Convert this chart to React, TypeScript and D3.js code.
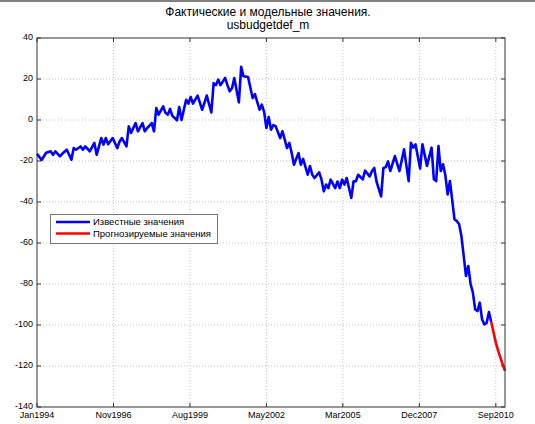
import React from "react";
import * as d3 from "d3";

// Month offsets counted from Jan1994 (0 = Jan1994)
const knownMonths = [
  0, 2, 4, 6, 7, 8, 10, 11, 13, 15, 16, 17, 19, 20, 21, 22, 23, 25, 26, 28, 29, 30, 31, 33, 35, 36, 37, 39, 40, 41, 43, 44, 46, 47, 48, 50, 51,
  52, 53, 55, 56, 57, 58, 59, 60, 61, 62, 63, 65, 66, 67, 68, 70, 72, 74, 76, 77, 78, 79, 80, 82, 83, 84, 85, 86, 88, 89, 90, 92, 94, 95, 97, 98,
  99, 100, 101, 102, 103, 104, 106, 107, 109, 110, 111, 112, 114, 115, 116, 118, 119, 120, 121, 123, 124, 125, 126, 127, 128, 130, 131, 132, 133,
  134, 135, 136, 137, 138, 139, 140, 142, 143, 145, 146, 147, 148, 150, 151, 152, 153, 154, 156, 158, 160, 162, 163, 164, 165, 167, 168, 169, 170,
  172, 173, 174, 175, 176, 177, 178, 179, 180, 182, 183, 184, 185, 186, 187, 188, 189, 190, 191, 192, 193, 194, 195, 196, 197, 198,
];
const knownValues = [
  -16.5, -19.5, -16, -15.3, -17, -15.3, -17.7, -16.5, -14.5, -19.4, -13.7, -14.5, -12.9, -14.5, -12.9, -14, -15.3, -11.2, -17, -8.8, -12, -8.8,
  -11.8, -8.8, -13.7, -10.5, -8.8, -12.9, -3.1, -6.3, -1.5, -5.5, -1.5, -5.5, -4, -1.5, -5.5,
  5.8, 2.6, 6.6, 3.5, 2.6, 5.4, 2, 1, -0.2, 6.3, 0, 9.9, 8, 11.2, 8, 11.9, 5, 11.9, 3.7, 18, 17, 19.7, 17, 20.5, 17, 14, 15.5, 20.5, 8.6, 25.9,
  21.3, 21, 10.7, 12.6, 5, 7.5,
  4, -3.9, 1.5, -4.7, -2.5, -3, -8.8, -5.5, -13.7, -11.2, -16, -21.8, -16.1, -21.8, -19, -26.7, -22.5, -26.7, -28.3, -25.5, -29, -34.8, -31.5,
  -33.2, -29.1, -33.2, -30, -33.2, -29.1,
  -31.5, -28.3, -33.2, -38, -29.9, -29.9, -26.7, -29, -24.7, -27.5, -25, -23.4, -30, -37.3, -23.4, -23, -20.2, -24.9, -17.6, -24.9, -14.3, -29.8,
  -11.1, -13.5, -11.9, -23.7, -11.9, -17, -22.4,
  -13.5, -28.9, -29.8, -12.7, -24.9, -21.6, -27, -36.3, -29.8, -48.5, -49.3, -50.9, -56.6, -66.3, -76.1, -71.2, -80, -84.2, -92.4, -93.2, -89.1,
  -97.2, -99.7, -99, -93.7, -98.5,
];
const forecastMonths = [198, 199, 200, 201, 202, 203, 204];
const forecastValues = [-98.5, -103.5, -108.6, -112.5, -115.9, -119.3, -122.4];

const xTickLabels = ["Jan1994", "Nov1996", "Aug1999", "May2002", "Mar2005", "Dec2007", "Sep2010"];
const yTicks = [-140, -120, -100, -80, -60, -40, -20, 0, 20, 40];
const titleLines = ["Фактические и модельные значения.", "usbudgetdef_m"];
const legendLabels = ["Известные значения", "Прогнозируемые значения"];

const W = 535;
const H = 424;
const L = 37;
const R = 505;
const T = 38;
const B = 407;

export default function App() {
  const x = d3.scaleLinear().domain([0, 204]).range([L, R]);
  const y = d3.scaleLinear().domain([-140, 40]).range([B, T]);
  const xTicks = xTickLabels.map((_, i) => (i * 200) / 6);

  const line = d3
    .line<[number, number]>()
    .x((d) => x(d[0]))
    .y((d) => y(d[1]));
  const known = knownMonths.map((m, i) => [m, knownValues[i]] as [number, number]);
  const fc = forecastMonths.map((m, i) => [m, forecastValues[i]] as [number, number]);

  const font = "'Liberation Sans', Arial, sans-serif";
  const axisColor = "#333";

  return (
    <svg
      width={W}
      height={H}
      style={{ position: "absolute", left: 0, top: 0, background: "#fff" }}
      fontFamily={font}
    >
      <rect x={0} y={0} width={W} height={H} fill="#fff" />
      <rect x={0} y={0} width={W} height={2} fill="#808080" />
      {/* grid */}
      {xTicks.slice(1).map((t, i) => (
        <line key={"gx" + i} x1={x(t)} x2={x(t)} y1={T} y2={B} stroke="#c4c4c4" strokeWidth={1} strokeDasharray="1,2" />
      ))}
      {yTicks.slice(1, -1).map((t, i) => (
        <line key={"gy" + i} x1={L} x2={R} y1={y(t)} y2={y(t)} stroke="#c4c4c4" strokeWidth={1} strokeDasharray="1,2" />
      ))}
      {/* ticks */}
      {xTicks.map((t, i) => (
        <g key={"tx" + i}>
          <line x1={x(t)} x2={x(t)} y1={B} y2={B - 4} stroke={axisColor} />
          <line x1={x(t)} x2={x(t)} y1={T} y2={T + 4} stroke={axisColor} />
          <text x={x(t)} y={418} fontSize={9} textAnchor="middle" fill="#000">
            {xTickLabels[i]}
          </text>
        </g>
      ))}
      {yTicks.map((t, i) => (
        <g key={"ty" + i}>
          <line x1={L} x2={L + 4} y1={y(t)} y2={y(t)} stroke={axisColor} />
          <line x1={R} x2={R - 4} y1={y(t)} y2={y(t)} stroke={axisColor} />
          <text x={33} y={y(t) - 1.5} dy="0.35em" fontSize={9} textAnchor="end" fill="#000">
            {t}
          </text>
        </g>
      ))}
      {/* data */}
      <path d={line(known) || ""} fill="none" stroke="#0000ff" strokeWidth={2.6} strokeLinejoin="round" />
      <path d={line(fc) || ""} fill="none" stroke="#ff0000" strokeWidth={2.6} strokeLinejoin="round" />
      {/* box */}
      <rect x={L} y={T} width={R - L} height={B - T} fill="none" stroke={axisColor} strokeWidth={1} />
      {/* title */}
      {titleLines.map((s, i) => (
        <text key={"t" + i} x={268} y={16 + i * 12.5} fontSize={12} textAnchor="middle" fill="#000">
          {s}
        </text>
      ))}
      {/* legend */}
      <rect x={50.5} y={214.5} width={167} height={29} fill="#fff" stroke="#777" />
      {legendLabels.map((s, i) => (
        <g key={"l" + i}>
          <line x1={56} x2={90} y1={222 + i * 11.5} y2={222 + i * 11.5} stroke={i === 0 ? "#0000ff" : "#ff0000"} strokeWidth={2.6} />
          <text x={93} y={222 + i * 11.5} dy="0.35em" fontSize={9.5} fill="#000">
            {s}
          </text>
        </g>
      ))}
    </svg>
  );
}
